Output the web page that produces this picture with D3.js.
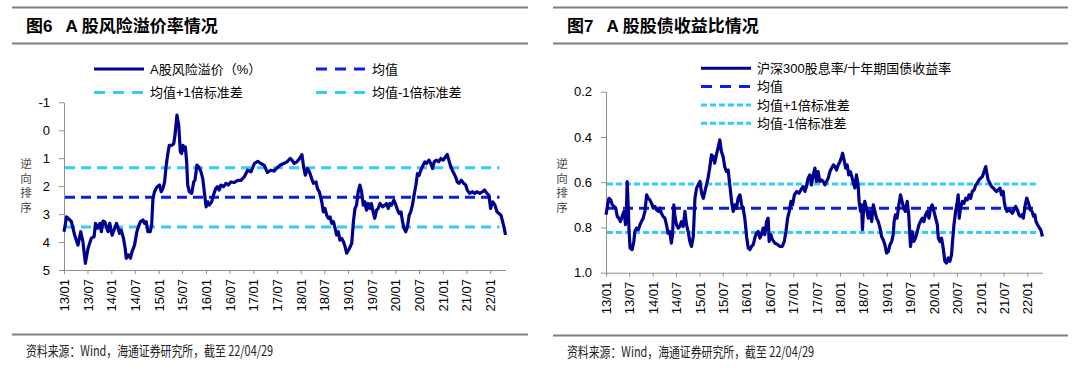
<!doctype html>
<html lang="zh">
<head>
<meta charset="utf-8">
<title>A股风险溢价率 / 股债收益比</title>
<script src="https://cdnjs.cloudflare.com/ajax/libs/d3/7.8.5/d3.min.js"></script>
<style>
    body { margin: 0; background: #fff; }
    svg text { font-family: "Liberation Sans", Arial, "Noto Sans CJK SC", sans-serif; fill: #000; }
    .axis path, .axis line { stroke: #8e8e8e; stroke-width: 1; }
    .axis text { font-size: 13px; fill: #000; }
    .title { font-family: "Liberation Sans", Arial, "Noto Sans CJK SC", sans-serif; font-weight: bold; font-size: 17px; }
    .legend text { font-size: 13px; }
    .vlabel { font-family: "Noto Sans CJK SC", sans-serif; font-size: 11.5px; fill: #444; }
    .source { font-family: "Liberation Sans Narrow", "Noto Sans CJK SC", sans-serif; font-size: 14px; fill: #222; }
</style>
</head>
<body>
<svg id="chart" width="1080" height="370"></svg>
<script>
var tickLabels = ["13/01","13/07","14/01","14/07","15/01","15/07","16/01","16/07","17/01","17/07",
    "18/01","18/07","19/01","19/07","20/01","20/07","21/01","21/07","22/01"];

// 图6: A股风险溢价(%)
var riskDates = [
    "2013-01-01","2013-01-21","2013-02-16","2013-02-27","2013-03-24","2013-04-19","2013-05-10","2013-05-27","2013-06-15","2013-07-05",
    "2013-07-30","2013-08-21","2013-09-01","2013-09-16","2013-10-04","2013-10-16","2013-10-29","2013-11-11","2013-11-24","2013-12-07",
    "2013-12-20","2014-01-07","2014-01-27","2014-02-10","2014-02-23","2014-03-05","2014-03-18","2014-04-05","2014-04-18","2014-04-26",
    "2014-05-13","2014-05-29","2014-06-09","2014-06-29","2014-07-17","2014-07-29","2014-08-14","2014-09-02","2014-09-14","2014-09-27",
    "2014-10-10","2014-10-28","2014-11-08","2014-11-18","2014-11-30","2014-12-20","2015-01-08","2015-01-21","2015-02-03","2015-02-16",
    "2015-02-27","2015-03-11","2015-03-24","2015-04-12","2015-04-27","2015-05-07","2015-05-22","2015-06-05","2015-06-17","2015-06-27",
    "2015-07-08","2015-07-18","2015-07-26","2015-08-05","2015-08-13","2015-08-26","2015-09-13","2015-09-28","2015-10-08","2015-10-23",
    "2015-11-06","2015-11-24","2015-12-07","2015-12-19","2016-01-02","2016-01-15","2016-01-27","2016-02-14","2016-02-28","2016-03-17",
    "2016-03-30","2016-04-12","2016-04-25","2016-05-16","2016-06-03","2016-06-21","2016-07-11","2016-08-06","2016-09-02","2016-09-27",
    "2016-10-22","2016-11-17","2016-12-13","2017-01-08","2017-02-03","2017-02-27","2017-03-24","2017-04-19","2017-05-14","2017-06-09",
    "2017-07-01","2017-07-26","2017-08-21","2017-09-17","2017-10-12","2017-10-25","2017-11-12","2017-12-02","2017-12-23","2018-01-10",
    "2018-01-23","2018-02-05","2018-02-22","2018-03-09","2018-03-26","2018-04-09","2018-04-29","2018-05-09","2018-05-24","2018-06-12",
    "2018-06-24","2018-07-07","2018-07-20","2018-08-02","2018-08-15","2018-08-28","2018-09-10","2018-09-23","2018-10-05","2018-10-18",
    "2018-10-30","2018-11-13","2018-11-26","2018-12-09","2018-12-21","2019-01-11","2019-01-29","2019-02-11","2019-02-23","2019-03-07",
    "2019-03-20","2019-04-02","2019-04-15","2019-04-28","2019-05-10","2019-05-23","2019-06-05","2019-06-18","2019-06-30","2019-07-13",
    "2019-07-26","2019-08-08","2019-08-21","2019-09-04","2019-09-24","2019-10-12","2019-10-24","2019-11-07","2019-11-20","2019-12-02",
    "2019-12-20","2020-01-05","2020-01-18","2020-01-30","2020-02-13","2020-02-25","2020-03-08","2020-03-21","2020-04-03","2020-04-16",
    "2020-04-28","2020-05-11","2020-05-24","2020-06-07","2020-06-19","2020-07-02","2020-07-15","2020-08-02","2020-08-15","2020-08-27",
    "2020-09-15","2020-09-30","2020-10-13","2020-10-26","2020-11-13","2020-11-30","2020-12-16","2021-01-04","2021-01-21","2021-02-04",
    "2021-02-16","2021-02-27","2021-03-15","2021-03-27","2021-04-10","2021-04-22","2021-05-05","2021-05-23","2021-06-10","2021-06-26",
    "2021-07-08","2021-07-26","2021-08-16","2021-09-03","2021-09-21","2021-10-12","2021-11-02","2021-11-19","2021-12-07","2021-12-22",
    "2022-01-04","2022-01-21","2022-02-07","2022-02-22","2022-03-10","2022-03-25","2022-04-07","2022-04-19","2022-04-29"
];
var riskValues = [
    3.63,3.10,3.21,3.27,3.75,4.11,3.63,3.99,4.76,4.23,
    3.87,3.81,3.33,3.51,3.33,3.63,3.25,3.27,3.45,3.63,
    3.33,3.75,3.51,3.33,3.51,3.69,3.57,3.87,4.23,4.58,
    4.46,4.58,4.35,4.11,3.63,3.45,3.27,3.21,3.33,3.27,
    3.63,3.63,3.39,2.44,2.20,2.02,1.96,2.20,2.08,1.85,
    1.31,0.89,0.54,0.54,0.48,0.18,-0.54,-0.18,0.77,0.83,
    0.54,0.71,0.60,1.13,1.96,2.20,2.26,1.85,1.79,1.25,
    1.31,1.49,1.73,2.20,2.74,2.56,2.68,2.56,2.32,2.08,
    2.02,2.14,1.96,2.02,1.90,1.96,1.85,1.87,1.79,1.79,
    1.67,1.43,1.49,1.19,1.11,1.19,1.25,1.51,1.43,1.46,
    1.35,1.25,1.19,1.13,1.01,1.07,1.19,1.13,1.01,0.87,
    1.31,1.61,1.37,1.49,1.73,1.90,1.85,2.08,2.20,2.56,
    2.92,2.80,3.04,3.15,3.10,3.33,3.27,3.51,3.75,3.63,
    3.93,3.87,3.99,4.17,4.40,4.23,4.05,3.27,2.80,2.68,
    2.20,1.96,2.20,2.68,2.56,2.86,2.62,2.80,2.62,2.92,
    3.15,2.86,2.80,2.62,2.74,2.68,2.62,2.80,2.62,2.68,
    2.50,2.68,2.86,2.98,2.92,3.27,3.51,3.63,3.45,3.04,
    2.92,2.68,2.32,1.96,1.55,1.61,1.43,1.25,1.13,1.19,
    1.07,1.19,1.37,1.13,1.07,1.13,1.01,1.07,0.95,0.87,
    1.07,1.25,1.43,1.55,1.67,1.85,1.90,1.79,1.90,1.96,
    2.14,2.26,2.20,2.26,2.20,2.26,2.20,2.14,2.26,2.32,
    2.80,2.56,2.68,2.92,2.98,3.04,3.27,3.50,3.75
];
var riskMean = 2.40, riskStd = 1.06;
var riskTicks = [-1, 0, 1, 2, 3, 4, 5];

// 图7: 沪深300股息率/十年期国债收益率
var ratioDates = [
    "2013-01-01","2013-01-14","2013-01-24","2013-02-07","2013-02-19","2013-03-05","2013-03-18","2013-03-30","2013-04-11","2013-04-24",
    "2013-05-07","2013-05-22","2013-06-02","2013-06-10","2013-06-15","2013-06-23","2013-06-30","2013-07-08","2013-07-24","2013-08-06",
    "2013-08-14","2013-08-27","2013-09-10","2013-09-23","2013-10-05","2013-10-18","2013-11-01","2013-11-14","2013-11-26","2013-12-09",
    "2013-12-22","2014-01-05","2014-01-18","2014-01-30","2014-02-13","2014-02-26","2014-03-09","2014-03-22","2014-04-05","2014-04-18",
    "2014-04-30","2014-05-13","2014-05-26","2014-06-04","2014-06-14","2014-06-22","2014-07-05","2014-07-18","2014-07-30","2014-08-13",
    "2014-08-26","2014-09-09","2014-09-21","2014-10-04","2014-10-17","2014-10-30","2014-11-13","2014-11-26","2014-12-09","2014-12-21",
    "2015-01-04","2015-01-17","2015-01-30","2015-02-12","2015-02-24","2015-03-08","2015-03-21","2015-04-04","2015-04-17","2015-04-29",
    "2015-05-12","2015-05-25","2015-06-08","2015-06-21","2015-07-04","2015-07-16","2015-07-29","2015-08-12","2015-08-25","2015-09-08",
    "2015-09-21","2015-10-03","2015-10-16","2015-10-29","2015-11-12","2015-11-25","2015-12-07","2015-12-20","2016-01-03","2016-01-16",
    "2016-01-29","2016-02-11","2016-02-24","2016-03-07","2016-03-20","2016-04-03","2016-04-16","2016-04-28","2016-05-11","2016-05-24",
    "2016-06-07","2016-06-19","2016-06-27","2016-07-10","2016-07-23","2016-08-11","2016-09-02","2016-09-20","2016-10-07","2016-10-23",
    "2016-11-05","2016-11-18","2016-12-01","2016-12-14","2016-12-27","2017-01-10","2017-01-28","2017-02-15","2017-03-01","2017-03-19",
    "2017-04-02","2017-04-14","2017-04-27","2017-05-10","2017-05-23","2017-06-06","2017-06-19","2017-07-01","2017-07-14","2017-07-27",
    "2017-08-10","2017-08-23","2017-09-05","2017-09-18","2017-10-01","2017-10-14","2017-10-27","2017-11-10","2017-11-23","2017-12-05",
    "2017-12-18","2018-01-01","2018-01-14","2018-01-21","2018-02-04","2018-02-14","2018-02-26","2018-03-10","2018-03-23","2018-04-06",
    "2018-04-19","2018-04-27","2018-05-09","2018-05-22","2018-05-30","2018-06-10","2018-06-18","2018-06-25","2018-07-03","2018-07-13",
    "2018-07-26","2018-08-09","2018-08-22","2018-09-05","2018-09-18","2018-09-30","2018-10-13","2018-10-26","2018-11-09","2018-11-21",
    "2018-12-04","2018-12-17","2018-12-30","2019-01-13","2019-01-26","2019-02-08","2019-02-20","2019-02-27","2019-03-09","2019-03-22",
    "2019-04-05","2019-04-18","2019-04-30","2019-05-13","2019-05-26","2019-06-09","2019-06-21","2019-07-05","2019-07-18","2019-07-30",
    "2019-08-13","2019-08-26","2019-09-09","2019-09-21","2019-10-04","2019-10-17","2019-10-30","2019-11-13","2019-11-26","2019-12-09",
    "2019-12-21","2020-01-04","2020-01-17","2020-01-30","2020-02-07","2020-02-20","2020-03-03","2020-03-16","2020-03-29","2020-04-11",
    "2020-04-24","2020-05-07","2020-05-20","2020-05-28","2020-06-08","2020-06-21","2020-07-04","2020-07-11","2020-07-19","2020-07-29",
    "2020-08-12","2020-08-25","2020-09-08","2020-09-21","2020-10-03","2020-10-16","2020-10-29","2020-11-12","2020-11-25","2020-12-07",
    "2020-12-20","2021-01-03","2021-01-16","2021-01-29","2021-02-11","2021-02-19","2021-03-02","2021-03-15","2021-03-28","2021-04-11",
    "2021-04-23","2021-05-06","2021-05-19","2021-06-02","2021-06-14","2021-06-27","2021-07-05","2021-07-15","2021-07-28","2021-08-11",
    "2021-08-24","2021-09-07","2021-09-20","2021-10-02","2021-10-15","2021-10-28","2021-11-07","2021-11-19","2021-12-01","2021-12-16",
    "2021-12-28","2022-01-10","2022-01-25","2022-02-07","2022-02-19","2022-03-01","2022-03-10","2022-03-22","2022-04-07","2022-04-16","2022-04-29"
];
var ratioValues = [
    0.744,0.700,0.671,0.678,0.700,0.707,0.715,0.751,0.759,0.774,
    0.751,0.729,0.788,0.715,0.597,0.700,0.818,0.891,0.898,0.862,
    0.818,0.803,0.810,0.788,0.774,0.759,0.729,0.656,0.671,0.678,
    0.693,0.715,0.707,0.722,0.729,0.715,0.737,0.751,0.759,0.788,
    0.825,0.818,0.869,0.832,0.700,0.744,0.788,0.803,0.796,0.774,
    0.796,0.729,0.788,0.818,0.862,0.884,0.840,0.671,0.626,0.612,
    0.597,0.649,0.671,0.641,0.612,0.582,0.538,0.479,0.487,0.516,
    0.479,0.450,0.413,0.465,0.487,0.531,0.553,0.546,0.612,0.685,
    0.729,0.700,0.715,0.671,0.656,0.700,0.715,0.759,0.840,0.891,
    0.898,0.884,0.876,0.847,0.825,0.818,0.847,0.832,0.803,0.832,
    0.774,0.759,0.862,0.832,0.854,0.869,0.876,0.884,0.884,0.862,
    0.818,0.759,0.729,0.685,0.700,0.656,0.641,0.649,0.634,0.619,
    0.641,0.619,0.582,0.568,0.612,0.568,0.538,0.597,0.553,0.597,
    0.590,0.597,0.612,0.597,0.582,0.553,0.538,0.524,0.531,0.546,
    0.524,0.509,0.487,0.472,0.509,0.538,0.524,0.568,0.553,0.582,
    0.612,0.626,0.568,0.612,0.685,0.729,0.700,0.810,0.729,0.685,
    0.715,0.759,0.729,0.774,0.700,0.729,0.759,0.774,0.803,0.840,
    0.854,0.876,0.913,0.906,0.876,0.862,0.832,0.774,0.744,0.759,
    0.700,0.656,0.685,0.715,0.729,0.685,0.744,0.884,0.818,0.862,
    0.847,0.818,0.788,0.774,0.759,0.774,0.744,0.729,0.759,0.715,
    0.700,0.729,0.759,0.788,0.847,0.862,0.847,0.891,0.950,0.957,
    0.935,0.950,0.921,0.862,0.788,0.729,0.685,0.656,0.759,0.715,
    0.685,0.693,0.671,0.678,0.656,0.671,0.641,0.634,0.612,0.604,
    0.590,0.582,0.575,0.553,0.531,0.560,0.590,0.604,0.619,0.626,
    0.634,0.641,0.634,0.626,0.656,0.641,0.685,0.715,0.729,0.722,
    0.729,0.737,0.722,0.707,0.722,0.744,0.751,0.744,0.759,0.700,
    0.670,0.692,0.722,0.729,0.751,0.744,0.774,0.788,0.803,0.810,0.840
];
var ratioMean = 0.715, ratioStd = 0.107;
var ratioTicks = [0.2, 0.4, 0.6, 0.8, 1.0];

var NAVY = "#000090", BLUE = "#0a1ee6", CYAN = "#33ccff";
var parseDate = d3.timeParse("%Y-%m-%d");
var tickDates = tickLabels.map(function(s) {
    var p = s.split("/");
    return new Date(2000 + (+p[0]), +p[1] - 1, 1);
});

var svg = d3.select("#chart");

function drawPanel(o) {
    var g = svg.append("g");

    // header / footer rules
    [7.5, 43.5, o.footY].forEach(function(yy) {
        g.append("line").attr("x1", o.left).attr("x2", o.right)
            .attr("y1", yy).attr("y2", yy)
            .attr("stroke", "#7f7f7f").attr("stroke-width", 2);
    });
    var t = g.append("text").attr("class", "title").attr("x", o.left + 14).attr("y", 32);
    t.append("tspan").text(o.title[0]);
    t.append("tspan").attr("dx", 13).text(o.title[1]);

    var dates = o.dates.map(parseDate);
    var x = d3.scaleTime().domain([dates[0], dates[dates.length - 1]]).range([o.x0, o.x1]);
    var y = d3.scaleLinear().domain([o.yTicks[0], o.yTicks[o.yTicks.length - 1]]).range([o.yTop, o.yBottom]);

    var xAxis = g.append("g").attr("class", "axis")
        .attr("transform", "translate(0," + o.yBottom + ")")
        .call(d3.axisBottom(x).tickValues(tickDates)
            .tickFormat(function(d, i) { return tickLabels[i]; })
            .tickSize(4).tickSizeOuter(0));
    xAxis.selectAll("text")
        .attr("transform", "rotate(-90)")
        .attr("x", -9).attr("y", 0).attr("dy", "0.35em")
        .style("text-anchor", "end");

    g.append("g").attr("class", "axis")
        .attr("transform", "translate(" + o.x0 + ",0)")
        .call(d3.axisLeft(y).tickValues(o.yTicks).tickFormat(o.yFormat)
            .tickSize(5).tickPadding(9).tickSizeOuter(0));

    // mean and +/- 1 std lines
    var refs = [
        { v: o.mean, color: BLUE, dash: o.meanDash },
        { v: o.mean - o.std, color: CYAN, dash: o.stdDash },
        { v: o.mean + o.std, color: CYAN, dash: o.stdDash }
    ];
    g.selectAll("line.ref").data(refs).enter().append("line")
        .attr("class", "ref")
        .attr("x1", o.x0 + 1).attr("x2", x(dates[dates.length - 1]) - 6)
        .attr("y1", function(d) { return y(d.v); })
        .attr("y2", function(d) { return y(d.v); })
        .attr("stroke", function(d) { return d.color; })
        .attr("stroke-width", 3)
        .attr("stroke-dasharray", function(d) { return d.dash; });

    var line = d3.line()
        .x(function(d, i) { return x(dates[i]); })
        .y(function(d) { return y(d); });
    g.append("path").datum(o.values)
        .attr("d", line)
        .attr("fill", "none")
        .attr("stroke", NAVY)
        .attr("stroke-width", 3.2)
        .attr("stroke-linejoin", "round");

    // vertical "逆向排序", one character per text so each sits in its own box
    "逆向排序".split("").forEach(function(c, i) {
        g.append("text").attr("class", "vlabel").attr("text-anchor", "middle")
            .attr("x", o.vlabelX).attr("y", 168 + i * 14.5).text(c);
    });

    // legend
    var lg = g.append("g").attr("class", "legend");
    o.legend.forEach(function(it) {
        lg.append("line").attr("x1", it.x).attr("x2", it.x + 50)
            .attr("y1", it.y).attr("y2", it.y)
            .attr("stroke", it.color).attr("stroke-width", 3)
            .attr("stroke-dasharray", it.dash);
        lg.append("text").attr("x", it.x + 56).attr("y", it.y).attr("dy", "0.35em").text(it.label);
    });

    g.append("text").attr("class", "source")
        .attr("x", o.left + 14).attr("y", o.footY + 21)
        .attr("textLength", 247).attr("lengthAdjust", "spacingAndGlyphs")
        .text("资料来源：Wind，海通证券研究所，截至 22/04/29");
}

drawPanel({
    left: 12, right: 528, footY: 334.5,
    title: ["图6", "A 股风险溢价率情况"],
    dates: riskDates, values: riskValues,
    x0: 64, x1: 505.5, yTop: 102.3, yBottom: 270,
    yTicks: riskTicks, yFormat: function(d) { return String(d); },
    mean: riskMean, std: riskStd,
    meanDash: "10,6", stdDash: "10,6",
    vlabelX: 26,
    legend: [
        { x: 94, y: 69, color: NAVY, dash: null, label: "A股风险溢价（%）" },
        { x: 316, y: 69, color: BLUE, dash: "11,8", label: "均值" },
        { x: 94, y: 92.5, color: CYAN, dash: "11,8", label: "均值+1倍标准差" },
        { x: 316, y: 92.5, color: CYAN, dash: "11,8", label: "均值-1倍标准差" }
    ]
});

drawPanel({
    left: 553, right: 1068, footY: 335.5,
    title: ["图7", "A 股股债收益比情况"],
    dates: ratioDates, values: ratioValues,
    x0: 606, x1: 1042.4, yTop: 91.7, yBottom: 272.7,
    yTicks: ratioTicks, yFormat: d3.format(".1f"),
    mean: ratioMean, std: ratioStd,
    meanDash: "10,6", stdDash: "6,3",
    vlabelX: 562,
    legend: [
        { x: 701, y: 68.3, color: NAVY, dash: null, label: "沪深300股息率/十年期国债收益率" },
        { x: 701, y: 86.5, color: BLUE, dash: "11,8", label: "均值" },
        { x: 701, y: 105, color: CYAN, dash: "6,3", label: "均值+1倍标准差" },
        { x: 701, y: 123.3, color: CYAN, dash: "6,3", label: "均值-1倍标准差" }
    ]
});
</script>
</body>
</html>
